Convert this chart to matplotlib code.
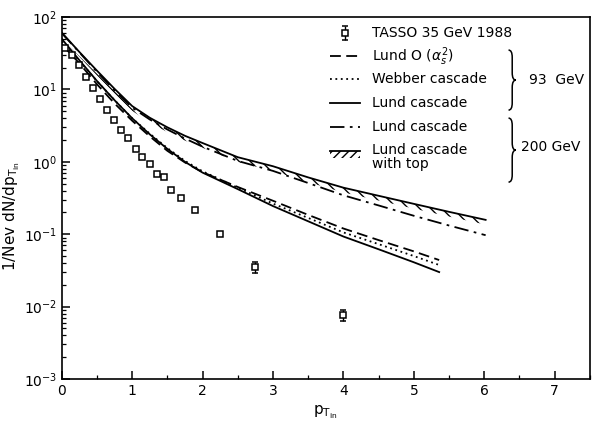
import matplotlib
matplotlib.use("Agg")
import matplotlib.pyplot as plt
import numpy as np
from matplotlib.path import Path
from matplotlib.patches import PathPatch
from matplotlib.ticker import LogLocator, MultipleLocator

# ==================================================
# Data
# ==================================================
# TASSO 35 GeV 1988 data points
tasso_x = [0.04, 0.15, 0.24, 0.34, 0.44, 0.54, 0.64, 0.74, 0.84, 0.94,
           1.05, 1.14, 1.25, 1.35, 1.45, 1.55, 1.70, 1.89, 2.25, 2.75, 4.0]
tasso_y = [37.7, 30.1, 21.7, 15.0, 10.4, 7.37, 5.24, 3.81, 2.77, 2.11,
           1.50, 1.18, 0.92, 0.68, 0.62, 0.41, 0.32, 0.216, 0.101, 0.0356, 0.0077]
tasso_err = [0.5, 0.4, 0.3, 0.2, 0.15, 0.1, 0.08, 0.06, 0.04, 0.03,
             0.02, 0.02, 0.015, 0.01, 0.01, 0.008, 0.006, 0.004, 0.003, 0.006, 0.0014]

# 93 GeV predictions
x93 = [0, 0.25, 0.5, 0.75, 1.0, 1.25, 1.5, 1.75, 2.0, 2.5, 3.0, 3.5, 4.0, 4.5, 5.0, 5.36]
lund_o2_93 = [42, 23, 11.8, 6.4, 3.7, 2.25, 1.42, 0.98, 0.72, 0.45, 0.29, 0.185,
              0.12, 0.083, 0.058, 0.044]
webber_93 = [46, 25, 13, 7.1, 4.0, 2.45, 1.55, 1.03, 0.74, 0.44, 0.265, 0.168,
             0.106, 0.073, 0.050, 0.0376]
lund_casc_93 = [50, 25.4, 13.1, 7.1, 4.0, 2.4, 1.51, 1.0, 0.71, 0.42, 0.245, 0.151,
                0.093, 0.062, 0.041, 0.030]

# 200 GeV predictions
x200 = [0, 0.25, 0.5, 0.75, 1.0, 1.25, 1.5, 1.75, 2.0, 2.5, 3.0, 3.5, 4.0, 4.5,
        5.0, 5.5, 6.02]
lund_casc_200 = [60, 32.5, 17.5, 9.7, 5.6, 3.85, 2.8, 2.1, 1.62, 1.03, 0.75, 0.51,
                 0.345, 0.25, 0.18, 0.132, 0.097]
lund_top_200 = [61, 33, 18.2, 10.2, 5.9, 4.07, 3.0, 2.29, 1.82, 1.16, 0.87, 0.61,
                0.44, 0.34, 0.263, 0.204, 0.158]

legend_labels = ["TASSO 35 GeV 1988", "Lund O ($\\alpha_s^2$)", "Webber cascade",
                 "Lund cascade", "Lund cascade", "Lund cascade\nwith top"]

# ==================================================
# Figure
# ==================================================
plt.rcParams["font.family"] = ["DejaVu Sans"]
plt.rcParams["font.size"] = 10
plt.rcParams["hatch.linewidth"] = 1.0

fig = plt.figure(figsize=(5.94, 4.28), dpi=100)
ax = fig.add_axes([0.104, 0.1145, 0.889, 0.8455])

lw = 1.3
ax.errorbar(tasso_x, tasso_y, yerr=tasso_err, fmt="s", mfc="white", mec="black",
            ecolor="black", ms=5, mew=1.1, capsize=2, elinewidth=1, zorder=5)

ax.plot(x93, lund_o2_93, color="black", lw=lw, ls=(0, (6, 3)))
ax.plot(x93, webber_93, color="black", lw=lw, ls=(0, (1, 2)))
ax.plot(x93, lund_casc_93, color="black", lw=lw, ls="-")

ax.plot(x200, lund_casc_200, color="black", lw=lw, ls=(0, (8, 3, 1.5, 3)))
ax.plot(x200, lund_top_200, color="black", lw=lw, ls="-")
# hatching under the "with top" curve
top = np.array(lund_top_200)
ax.fill_between(x200, top, top * 0.86, facecolor="none", edgecolor="black",
                hatch="\\\\\\", linewidth=0)

ax.set_yscale("log")
ax.set_xlim(0, 7.5)
ax.set_ylim(1e-3, 1e2)
ax.xaxis.set_major_locator(MultipleLocator(1))
ax.xaxis.set_minor_locator(MultipleLocator(0.5))
ax.yaxis.set_major_locator(LogLocator(base=10, numticks=10))
ax.yaxis.set_minor_locator(LogLocator(base=10, subs=np.arange(2, 10), numticks=10))
ax.tick_params(which="both", direction="in", top=False, right=False, labelsize=10)
ax.tick_params(which="major", length=6, width=1.1)
ax.tick_params(which="minor", length=3, width=0.9)
for s in ax.spines.values():
    s.set_linewidth(1.2)

ax.set_xlabel("p$_{\\mathregular{T_{in}}}$", fontsize=11)
ax.set_ylabel("1/Nev dN/dp$_{\\mathregular{T_{in}}}$", fontsize=11, labelpad=4)
ax.yaxis.set_label_coords(-0.075, 0.45)

# ==================================================
# Hand-made legend with braces
# ==================================================
hx0, hx1 = 0.508, 0.564
tx = 0.587
rows = [0.956, 0.892, 0.829, 0.762, 0.696, 0.630]
styles = [None, (0, (6, 3)), (0, (1, 2)), "-", (0, (8, 3, 1.5, 3)), "-"]
tr = ax.transAxes
for yy, st, lab in zip(rows, styles, legend_labels):
    if st is None:
        ax.errorbar([(hx0 + hx1) / 2], [yy], yerr=[0.02], fmt="s", mfc="white",
                    mec="black", ecolor="black", ms=5, mew=1.1, capsize=2,
                    elinewidth=1, transform=tr)
    else:
        ax.plot([hx0, hx1], [yy, yy], color="black", lw=lw, ls=st, transform=tr)
    ax.text(tx, yy, lab, transform=tr, va="top" if "\n" in lab else "center",
            ha="left", fontsize=10, linespacing=1.0)
# fix the two-line label so its first line sits on the row
ax.texts[-1].set_y(rows[-1] + 0.022)
ax.fill_between([hx0, hx1], [rows[-1]] * 2, [rows[-1] - 0.018] * 2, transform=tr,
                facecolor="none", edgecolor="black", hatch="////", linewidth=0)


def brace(ax, x, y0, y1, w):
    ym = (y0 + y1) / 2
    d = 0.02
    verts = [(x, y1), (x + w / 2, y1), (x + w / 2, y1 - d),
             (x + w / 2, ym + d),
             (x + w / 2, ym), (x + w, ym),
             (x + w / 2, ym), (x + w / 2, ym - d),
             (x + w / 2, y0 + d),
             (x + w / 2, y0), (x, y0)]
    codes = [Path.MOVETO, Path.CURVE3, Path.CURVE3, Path.LINETO,
             Path.CURVE3, Path.CURVE3, Path.CURVE3, Path.CURVE3,
             Path.LINETO, Path.CURVE3, Path.CURVE3]
    ax.add_patch(PathPatch(Path(verts, codes), transform=ax.transAxes,
                           facecolor="none", edgecolor="black", lw=1.1))


brace(ax, 0.846, 0.743, 0.909, 0.014)
brace(ax, 0.846, 0.544, 0.721, 0.014)
ax.text(0.884, 0.826, "93  GeV", transform=tr, va="center", ha="left", fontsize=10)
ax.text(0.870, 0.640, "200 GeV", transform=tr, va="center", ha="left", fontsize=10)

fig.savefig("out.png", dpi=100)
